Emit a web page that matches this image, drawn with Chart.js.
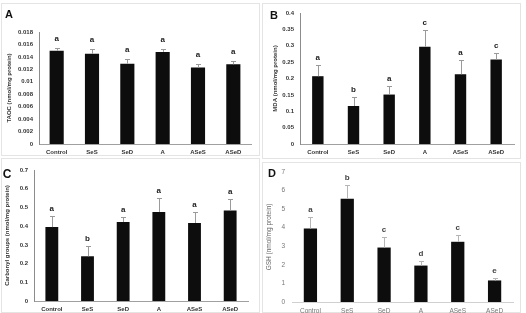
<!DOCTYPE html>
<html>
<head>
<meta charset="utf-8">
<script src="https://cdn.jsdelivr.net/npm/chart.js@4.4.1/dist/chart.umd.min.js"></script>
<style>
body { margin:0; background:#fff; width:526px; height:313px; overflow:hidden; position:relative; }
canvas { position:absolute; }
.box { position:absolute; border:1px solid #e4e4e4; box-sizing:border-box; }
</style>
</head>
<body>
<div class="box" style="left:1px;top:3px;width:259px;height:153px"></div>
<div class="box" style="left:262px;top:3px;width:259px;height:156px"></div>
<div class="box" style="left:1px;top:158px;width:259px;height:155px"></div>
<div class="box" style="left:262px;top:162px;width:259px;height:151px"></div>
<canvas id="pA" width="260" height="156" style="left:0;top:0"></canvas>
<canvas id="pB" width="262" height="158" style="left:262px;top:0"></canvas>
<canvas id="pC" width="260" height="156" style="left:0;top:157px"></canvas>
<canvas id="pD" width="262" height="152" style="left:262px;top:161px"></canvas>
<script>
const categories = ['Control', 'SeS', 'SeD', 'A', 'ASeS', 'ASeD'];

// A - TAOC
const taocValues = [0.0150, 0.0145, 0.0129, 0.0148, 0.0123, 0.0128];
const taocErrors = [0.0004, 0.0007, 0.0008, 0.0005, 0.0005, 0.0006];
const taocLetters = ['a', 'a', 'a', 'a', 'a', 'a'];

// B - MDA
const mdaValues = [0.207, 0.116, 0.151, 0.297, 0.213, 0.258];
const mdaErrors = [0.034, 0.029, 0.025, 0.051, 0.042, 0.021];
const mdaLetters = ['a', 'b', 'a', 'c', 'a', 'c'];

// C - carbonyl groups
const carbonylValues = [0.395, 0.239, 0.422, 0.476, 0.417, 0.484];
const carbonylErrors = [0.058, 0.053, 0.026, 0.074, 0.058, 0.060];
const carbonylLetters = ['a', 'b', 'a', 'a', 'a', 'a'];

// D - GSH
const gshValues = [3.95, 5.55, 2.93, 1.96, 3.24, 1.16];
const gshErrors = [0.64, 0.74, 0.56, 0.22, 0.37, 0.14];
const gshLetters = ['a', 'b', 'c', 'd', 'c', 'e'];

// y axis ranges (max, step)
const taocAxis = [0.018, 0.002];
const mdaAxis = [0.4, 0.05];
const carbonylAxis = [0.7, 0.1];
const gshAxis = [7, 1];

const FONT = '"Liberation Sans", Arial, sans-serif';

// error bars + significance letters + panel letter
const errorBarPlugin = {
    id: 'errorBars',
    afterDatasetsDraw(chart, args, o) {
        const ctx = chart.ctx;
        const meta = chart.getDatasetMeta(0);
        const ys = chart.scales.y;
        const vals = chart.data.datasets[0].data;
        ctx.save();
        ctx.lineWidth = 1;
        ctx.strokeStyle = o.barColor;
        ctx.textAlign = 'center';
        ctx.textBaseline = 'middle';
        meta.data.forEach(function(bar, i) {
            const x = Math.round(bar.x) + 0.5;
            const top = Math.round(ys.getPixelForValue(vals[i] + o.errors[i])) + 0.5;
            ctx.beginPath();
            ctx.moveTo(x, bar.y);
            ctx.lineTo(x, top);
            ctx.moveTo(x - 2.5, top);
            ctx.lineTo(x + 2.5, top);
            ctx.stroke();
            ctx.fillStyle = o.letterColor;
            ctx.font = 'bold 8px ' + FONT;
            ctx.fillText(o.letters[i], bar.x, top - o.gap);
        });
        ctx.fillStyle = '#111';
        ctx.font = 'bold ' + o.panelSize + 'px ' + FONT;
        ctx.fillText(o.panel, o.panelX, o.panelY);
        ctx.restore();
    }
};

function makePanel(id, values, errors, letters, axis, title, lay) {
    const canvas = document.getElementById(id);
    const W = canvas.width, H = canvas.height;
    const soft = lay.soft;
    const tickFont = {family: FONT, size: soft ? 6.5 : 6, weight: soft ? 'normal' : 'bold'};
    const tickColor = soft ? '#777' : '#333';
    return new Chart(canvas, {
        type: 'bar',
        data: {
            labels: categories,
            datasets: [{
                data: values,
                backgroundColor: '#0d0d0d',
                borderWidth: 0,
                barPercentage: lay.bar,
                categoryPercentage: 1
            }]
        },
        options: {
            responsive: false,
            animation: false,
            devicePixelRatio: 1,
            layout: {padding: {left: 0, top: lay.top, right: W - lay.right, bottom: 0}},
            plugins: {
                legend: {display: false},
                tooltip: {enabled: false},
                errorBars: {
                    errors: errors, letters: letters, gap: lay.gap,
                    barColor: soft ? '#b5b5b5' : '#9a9a9a',
                    letterColor: soft ? '#444' : '#222',
                    panel: lay.panel, panelX: lay.px, panelY: lay.py, panelSize: lay.ps
                }
            },
            scales: {
                x: {
                    grid: {display: false, drawTicks: false},
                    border: {display: true, color: soft ? '#d0d0d0' : '#a0a0a0'},
                    ticks: {font: tickFont, color: tickColor, padding: 5, maxRotation: 0, autoSkip: false},
                    afterFit: function(s) { s.height = H - lay.bottom; }
                },
                y: {
                    min: 0,
                    max: axis[0],
                    grid: {display: false, drawTicks: false},
                    border: {display: !soft, color: '#8c8c8c'},
                    ticks: {
                        stepSize: axis[1],
                        font: tickFont,
                        color: tickColor,
                        padding: lay.tp,
                        callback: function(v) { return String(+v.toFixed(3)); }
                    },
                    title: {
                        display: true,
                        text: title,
                        font: {family: FONT, size: soft ? 6.5 : 6, weight: soft ? 'normal' : 'bold'},
                        color: soft ? '#666' : '#333',
                        padding: {top: lay.titlePad, bottom: 0}
                    },
                    afterFit: function(s) { s.width = lay.left; }
                }
            }
        },
        plugins: [errorBarPlugin]
    });
}

makePanel('pA', taocValues, taocErrors, taocLetters, taocAxis, 'TAOC (nmol/mg protein)',
    {left: 39, right: 251, top: 32, bottom: 144, bar: 0.40, gap: 10, tp: 6, titlePad: 6,
     panel: 'A', px: 9, py: 15, ps: 11});
makePanel('pB', mdaValues, mdaErrors, mdaLetters, mdaAxis, 'MDA (nmol/mg protein)',
    {left: 38, right: 252, top: 13, bottom: 144, bar: 0.32, gap: 8, tp: 6, titlePad: 10,
     panel: 'B', px: 12, py: 16, ps: 11});
makePanel('pC', carbonylValues, carbonylErrors, carbonylLetters, carbonylAxis, 'Carbonyl groups (nmol/mg protein)',
    {left: 34, right: 248, top: 13, bottom: 144, bar: 0.36, gap: 8, tp: 6, titlePad: 4,
     panel: 'C', px: 7, py: 18, ps: 12});
makePanel('pD', gshValues, gshErrors, gshLetters, gshAxis, 'GSH (nmol/mg protein)',
    {left: 30, right: 251, top: 9, bottom: 141, bar: 0.36, gap: 8, tp: 7, titlePad: 3,
     panel: 'D', px: 10, py: 13, ps: 11, soft: true});
</script>
</body>
</html>
